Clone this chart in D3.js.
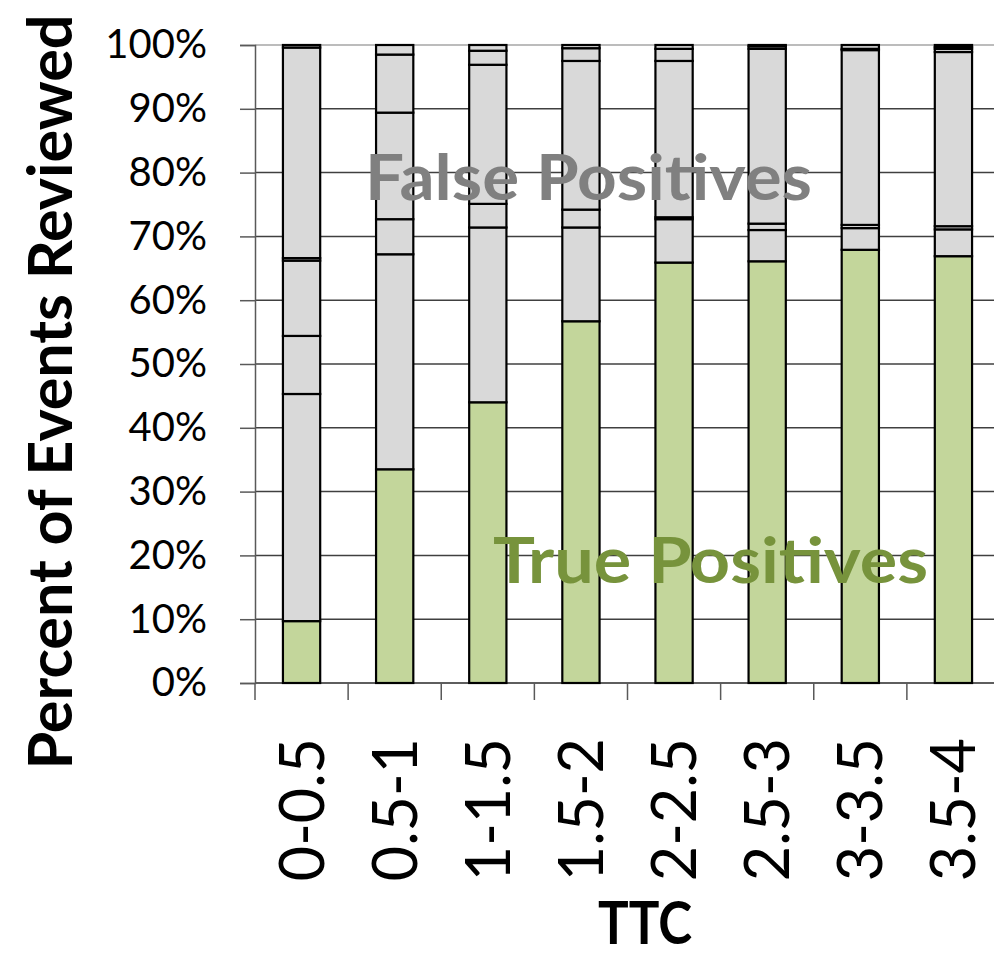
<!DOCTYPE html>
<html>
<head>
<meta charset="utf-8">
<script src="https://cdn.jsdelivr.net/npm/d3@7"></script>
<style>
  html, body { margin: 0; padding: 0; background: #ffffff; }
  svg { display: block; }
</style>
</head>
<body>
<svg id="chart" width="994" height="956"></svg>
<script>
// TTC bins on the x axis
const categories = ["0-0.5", "0.5-1", "1-1.5", "1.5-2", "2-2.5", "2.5-3", "3-3.5", "3.5-4"];

// Percent of events reviewed, stacked bottom to top
const truePositives = [9.7, 33.5, 44.0, 56.7, 65.9, 66.1, 67.9, 66.9];
const falsePosA     = [35.6, 33.7, 27.4, 14.7, 6.8, 4.9, 3.4, 4.2];
const falsePosB     = [9.1, 5.5, 3.7, 2.8, 0.3, 1.0, 0.5, 0.5];
const falsePosC     = [11.8, 16.7, 21.8, 23.3, 24.5, 27.4, 27.4, 27.3];
const falsePosD     = [0.4, 9.1, 2.2, 2.0, 1.9, 0.4, 0.2, 0.5];
const falsePosE     = [33.0, 1.5, 0.9, 0.5, 0.6, 0.2, 0.6, 0.3];
const falsePosF     = [0.4, 0, 0, 0, 0, 0, 0, 0.3];

const yTicks = [0, 10, 20, 30, 40, 50, 60, 70, 80, 90, 100];

const seriesKeys = ["tp", "fpA", "fpB", "fpC", "fpD", "fpE", "fpF"];
const seriesValues = [truePositives, falsePosA, falsePosB, falsePosC, falsePosD, falsePosE, falsePosF];
const seriesFill = { tp: "#c3d69b" };
const fpFill = "#d9d9d9";

const table = categories.map((c, i) => {
  const row = { cat: c };
  seriesKeys.forEach((k, j) => { row[k] = seriesValues[j][i]; });
  return row;
});

const svg = d3.select("#chart");
const plotL = 255, plotR = 1000, plotT = 45, plotB = 683;

const x = d3.scaleBand().domain(categories).range([plotL, plotR]).padding(0);
const y = d3.scaleLinear().domain([0, 100]).range([plotB, plotT]);
const barW = x.bandwidth() * 0.4;

// Horizontal gridlines
svg.append("g").selectAll("line").data(yTicks).join("line")
  .attr("x1", plotL).attr("x2", 994)
  .attr("y1", d => y(d)).attr("y2", d => y(d))
  .attr("stroke", d => d === 100 ? "#a6a6a6" : "#404040")
  .attr("stroke-width", 1.5);

// Y axis
const yAxis = d3.axisLeft(y).tickValues(yTicks).tickSize(15).tickPadding(33)
  .tickFormat(d => d + "%");
const gy = svg.append("g").attr("transform", `translate(${plotL},0)`).call(yAxis);
gy.select(".domain").attr("stroke", "#595959").attr("stroke-width", 1.5);
gy.selectAll(".tick line").attr("stroke", "#595959").attr("stroke-width", 1.5);
gy.selectAll(".tick text")
  .attr("font-family", "Lato, sans-serif").attr("font-size", 40)
  .attr("fill", "#000");

// X axis: ticks sit on the category boundaries
const boundaries = categories.map(c => x(c)).concat([plotR]);
svg.append("line").attr("x1", plotL).attr("x2", 994)
  .attr("y1", plotB).attr("y2", plotB)
  .attr("stroke", "#595959").attr("stroke-width", 1.5);
svg.append("g").selectAll("line").data(boundaries).join("line")
  .attr("x1", d => d).attr("x2", d => d)
  .attr("y1", plotB).attr("y2", plotB + 17)
  .attr("stroke", "#595959").attr("stroke-width", 1.5);

svg.append("g").selectAll("text").data(categories).join("text")
  .attr("transform", d => `translate(${x(d) + x.bandwidth() / 2},738) rotate(-90)`)
  .attr("text-anchor", "end")
  .attr("dy", "0.36em")
  .attr("font-family", "Lato, sans-serif").attr("font-size", 61)
  .attr("fill", "#000")
  .text(d => d);

// Stacked bars
const stack = d3.stack().keys(seriesKeys)(table);
const layers = svg.append("g").selectAll("g").data(stack).join("g")
  .attr("fill", d => seriesFill[d.key] || fpFill);
layers.selectAll("rect").data(d => d.filter(s => s[1] - s[0] > 0)).join("rect")
  .attr("x", d => x(d.data.cat) + (x.bandwidth() - barW) / 2)
  .attr("width", barW)
  .attr("y", d => y(d[1]))
  .attr("height", d => y(d[0]) - y(d[1]))
  .attr("stroke", "#000")
  .attr("stroke-width", 2.2);

// In-plot annotations
svg.append("text")
  .attr("x", 365).attr("y", 200)
  .attr("font-family", "Lato, sans-serif").attr("font-weight", 700)
  .attr("font-size", 64).attr("fill", "#808080")
  .attr("textLength", 447).attr("lengthAdjust", "spacingAndGlyphs")
  .text("False Positives");

svg.append("text")
  .attr("x", 493).attr("y", 583)
  .attr("font-family", "Lato, sans-serif").attr("font-weight", 700)
  .attr("font-size", 64).attr("fill", "#77933c")
  .attr("textLength", 435).attr("lengthAdjust", "spacingAndGlyphs")
  .text("True Positives");

// Axis titles
svg.append("text")
  .attr("transform", "translate(50,392) rotate(-90)")
  .attr("text-anchor", "middle").attr("dy", "0.36em")
  .attr("font-family", "Lato, sans-serif").attr("font-weight", 700)
  .attr("font-size", 62).attr("fill", "#000")
  .attr("textLength", 755).attr("lengthAdjust", "spacingAndGlyphs")
  .text("Percent of Events Reviewed");

svg.append("text")
  .attr("x", 645).attr("y", 944)
  .attr("text-anchor", "middle")
  .attr("font-family", "Lato, sans-serif").attr("font-weight", 700)
  .attr("font-size", 60).attr("fill", "#000")
  .attr("textLength", 94).attr("lengthAdjust", "spacingAndGlyphs")
  .text("TTC");
</script>
</body>
</html>
